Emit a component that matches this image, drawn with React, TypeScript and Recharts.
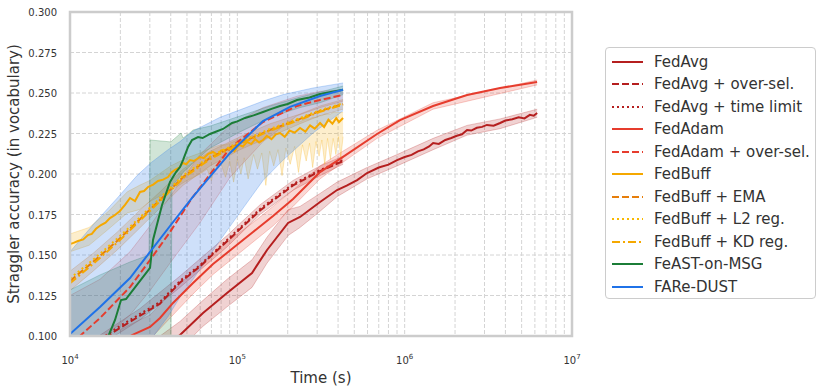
import { Area, CartesianGrid, ComposedChart, Line, XAxis, YAxis } from "recharts";

type Pt = [number, number];
type Band = [number, number, number];

const xTicks = [
  10000, 20000, 30000, 40000, 50000, 60000, 70000, 80000, 90000,
  100000, 200000, 300000, 400000, 500000, 600000, 700000, 800000, 900000,
  1000000, 2000000, 3000000, 4000000, 5000000, 6000000, 7000000, 8000000, 9000000,
  10000000,
];
const xLabelTicks = [10000, 100000, 1000000, 10000000];
const yTicks = [0.1, 0.125, 0.15, 0.175, 0.2, 0.225, 0.25, 0.275, 0.3];

// FedAvg family
const fedAvg: Pt[] = [
  [34510, 0.0914], [45450, 0.1006], [62370, 0.1142], [86800, 0.1265], [122400, 0.1389],
  [150500, 0.1531], [201000, 0.1698], [237000, 0.1735], [312200, 0.1827], [394500, 0.1901],
  [450000, 0.1928], [520000, 0.1962], [596000, 0.2006], [700000, 0.204], [800000, 0.2058],
  [900900, 0.2086], [1000000, 0.2105], [1100000, 0.2118], [1200000, 0.214], [1300000, 0.2152],
  [1400000, 0.217], [1480000, 0.2191], [1600000, 0.2186], [1750000, 0.221], [1900000, 0.2222],
  [2050000, 0.2236], [2200000, 0.2245], [2360000, 0.2272], [2500000, 0.2268], [2700000, 0.2285],
  [2900000, 0.2291], [3100000, 0.2303], [3400000, 0.2298], [3720000, 0.2315], [4000000, 0.233],
  [4400000, 0.2338], [4800000, 0.235], [5200000, 0.2343], [5600000, 0.2365], [5900000, 0.236],
  [6190000, 0.2377],
];
const fedAvgBand: Band[] = [
  [34510, 0.083, 0.1], [45450, 0.092, 0.109], [62370, 0.106, 0.122], [86800, 0.118, 0.135],
  [122400, 0.13, 0.147], [150500, 0.145, 0.161], [201000, 0.162, 0.178], [237000, 0.167, 0.18],
  [312200, 0.177, 0.188], [394500, 0.186, 0.195], [596000, 0.197, 0.204], [900900, 0.205, 0.212],
  [1480000, 0.215, 0.222], [2360000, 0.224, 0.23], [3720000, 0.228, 0.234], [6190000, 0.235, 0.24],
];
const fedAvgOverSel: Pt[] = [
  [13000, 0.092], [16190, 0.099], [19900, 0.105], [26210, 0.1125], [34510, 0.12], [45450, 0.133],
  [59840, 0.143], [86800, 0.1585], [136700, 0.1775], [215300, 0.193], [312200, 0.2018], [428400, 0.208],
];
const fedAvgTimeLimit: Pt[] = [
  [13000, 0.093], [16190, 0.1], [19900, 0.1062], [26210, 0.1136], [34510, 0.121], [45450, 0.134],
  [59840, 0.1438], [86800, 0.1593], [136700, 0.1784], [215300, 0.1938], [312200, 0.2025], [428400, 0.2086],
];
const fedAvgTimeLimitBand: Band[] = [
  [13000, 0.09, 0.096], [26210, 0.11, 0.117], [45450, 0.13, 0.137], [86800, 0.155, 0.162],
  [136700, 0.175, 0.181], [215300, 0.19, 0.196], [312200, 0.199, 0.205], [428400, 0.206, 0.211],
];

// FedAdam family
const fedAdam: Pt[] = [
  [19900, 0.0963], [23480, 0.1006], [30080, 0.1056], [34510, 0.1111], [41270, 0.1204], [54360, 0.1327],
  [71580, 0.1444], [94270, 0.1543], [124100, 0.1642], [163500, 0.1741], [215300, 0.1846], [261000, 0.1932],
  [312200, 0.2012], [411100, 0.2093], [683900, 0.2247], [938600, 0.2333], [1478000, 0.242],
  [2360000, 0.2488], [3717000, 0.2531], [6186000, 0.2568],
];
const fedAdamBand: Band[] = [
  [19900, 0.088, 0.104], [30080, 0.098, 0.113], [41270, 0.113, 0.128], [54360, 0.126, 0.14],
  [71580, 0.138, 0.151], [94270, 0.148, 0.161], [124100, 0.158, 0.17], [163500, 0.168, 0.18],
  [215300, 0.18, 0.19], [312200, 0.197, 0.205], [411100, 0.206, 0.213], [683900, 0.222, 0.227],
  [1478000, 0.24, 0.244], [6186000, 0.255, 0.258],
];
const fedAdamOverSel: Pt[] = [
  [10000, 0.0965], [11470, 0.1], [15110, 0.1111], [22840, 0.1302], [30080, 0.1469], [39600, 0.1642],
  [53620, 0.1852], [90460, 0.216], [142400, 0.2321], [227500, 0.242], [312200, 0.2457], [428400, 0.2488],
];
const fedAdamOverSelBand: Band[] = [
  [10000, 0.085, 0.125], [15110, 0.097, 0.135], [22840, 0.113, 0.152], [30080, 0.128, 0.168],
  [39600, 0.145, 0.186], [59840, 0.17, 0.212], [90460, 0.198, 0.23], [142400, 0.22, 0.241],
  [227500, 0.236, 0.248], [312200, 0.241, 0.251], [428400, 0.245, 0.252],
];

// FedBuff family
const fedBuff: Pt[] = [
  [10000, 0.1568], [10500, 0.1575], [11160, 0.1586], [12000, 0.1596], [12810, 0.1623], [13500, 0.163],
  [14300, 0.1662], [15320, 0.1685], [16300, 0.17], [17340, 0.1728], [18580, 0.1747], [19800, 0.177],
  [21320, 0.1809], [22840, 0.1852], [24460, 0.1833], [26210, 0.1889], [27700, 0.1895], [29260, 0.192],
  [31400, 0.1935], [33570, 0.1957], [36000, 0.1965], [38530, 0.1981], [40400, 0.201], [42430, 0.2025],
  [45000, 0.204], [47360, 0.2068], [49500, 0.206], [52160, 0.2086], [55000, 0.208], [59840, 0.2105],
  [63000, 0.2098], [67000, 0.2125], [71580, 0.2136], [76000, 0.2118], [80000, 0.2145], [85000, 0.215],
  [90460, 0.216], [96000, 0.214], [102000, 0.218], [108000, 0.217], [114300, 0.2198], [121000, 0.2185],
  [128000, 0.2215], [135000, 0.2195], [142400, 0.221], [150000, 0.2235], [160000, 0.2215], [170000, 0.2245],
  [180000, 0.2253], [192000, 0.223], [205000, 0.2268], [220000, 0.2255], [237000, 0.2284], [255000, 0.2262],
  [272000, 0.23], [290000, 0.228], [312200, 0.2315], [330000, 0.229], [350000, 0.2335], [370000, 0.231],
  [390000, 0.2345], [405000, 0.232], [428400, 0.2346],
];
const fedBuffBand: Band[] = [
  [10000, 0.152, 0.163], [13000, 0.156, 0.167], [17000, 0.166, 0.177], [22000, 0.176, 0.189],
  [26000, 0.178, 0.193], [30000, 0.183, 0.196], [40000, 0.19, 0.205], [50000, 0.196, 0.21],
  [60000, 0.2, 0.213], [66000, 0.203, 0.215], [70000, 0.196, 0.216], [74000, 0.205, 0.217],
  [80000, 0.206, 0.218], [85000, 0.198, 0.218], [90000, 0.208, 0.219], [95000, 0.195, 0.22],
  [100000, 0.209, 0.221], [105000, 0.2, 0.221], [110000, 0.21, 0.222], [116000, 0.197, 0.223],
  [125000, 0.212, 0.224], [132000, 0.203, 0.224], [140000, 0.213, 0.225], [148000, 0.193, 0.226],
  [156000, 0.214, 0.227], [165000, 0.205, 0.227], [175000, 0.215, 0.228], [185000, 0.199, 0.229],
  [195000, 0.216, 0.23], [207000, 0.206, 0.231], [220000, 0.217, 0.232], [232000, 0.201, 0.232],
  [245000, 0.218, 0.233], [258000, 0.208, 0.234], [270000, 0.219, 0.234], [282000, 0.204, 0.235],
  [295000, 0.22, 0.235], [308000, 0.211, 0.236], [320000, 0.221, 0.236], [333000, 0.206, 0.237],
  [346000, 0.222, 0.237], [360000, 0.209, 0.237], [374000, 0.222, 0.238], [388000, 0.212, 0.238],
  [402000, 0.223, 0.238], [415000, 0.21, 0.238], [428400, 0.223, 0.238],
];
const fedBuffEma: Pt[] = [
  [10000, 0.134], [13730, 0.1457], [19100, 0.1586], [25150, 0.1704], [34510, 0.184], [47360, 0.1981],
  [68680, 0.2099], [103800, 0.2191], [156800, 0.2272], [237000, 0.234], [312200, 0.2389], [428400, 0.2432],
];
const fedBuffL2: Pt[] = [
  [10000, 0.1355], [13730, 0.147], [19100, 0.16], [25150, 0.1715], [34510, 0.1852], [47360, 0.199],
  [68680, 0.2108], [103800, 0.2198], [156800, 0.2278], [237000, 0.2346], [312200, 0.2394], [428400, 0.2436],
];
const fedBuffKd: Pt[] = [
  [10000, 0.1325], [13730, 0.1445], [19100, 0.1575], [25150, 0.1695], [34510, 0.1832], [47360, 0.1974],
  [68680, 0.2092], [103800, 0.2186], [156800, 0.2267], [237000, 0.2335], [312200, 0.2384], [428400, 0.2428],
];
const fedBuffEmaBand: Band[] = [
  [10000, 0.128, 0.14], [13730, 0.14, 0.151], [19100, 0.153, 0.164], [25150, 0.165, 0.176],
  [34510, 0.179, 0.189], [47360, 0.193, 0.203], [68680, 0.205, 0.214], [103800, 0.215, 0.223],
  [156800, 0.223, 0.231], [237000, 0.231, 0.237], [312200, 0.236, 0.242], [428400, 0.24, 0.246],
];

// FeAST-on-MSG
const feast: Pt[] = [
  [16870, 0.0994], [18580, 0.1099], [20180, 0.1222], [21610, 0.1228], [30080, 0.142], [31340, 0.1593],
  [35480, 0.1809], [39600, 0.1951], [43020, 0.2012], [45450, 0.2043], [47360, 0.2086], [50750, 0.2167],
  [53620, 0.221], [58240, 0.2228], [62000, 0.2222], [68680, 0.2247], [75000, 0.2262], [82140, 0.2278],
  [92990, 0.2315], [100000, 0.2325], [111200, 0.2346], [125000, 0.2362], [142400, 0.2383], [160000, 0.2402],
  [180000, 0.242], [200000, 0.2432], [227500, 0.2457], [270000, 0.2472], [312200, 0.2494], [428400, 0.252],
];
const feastBand: Band[] = [
  [10000, 0.07, 0.1284], [15110, 0.08, 0.1377], [22840, 0.09, 0.1457], [29660, 0.095, 0.15],
  [30080, 0.095, 0.221], [40150, 0.098, 0.2198], [40710, 0.1926, 0.2205], [46080, 0.199, 0.2253],
  [47360, 0.201, 0.2222], [52160, 0.205, 0.2255], [54360, 0.207, 0.2272], [68680, 0.216, 0.2296],
  [103800, 0.226, 0.2358], [156800, 0.235, 0.242], [237000, 0.241, 0.2475], [312200, 0.244, 0.2506],
  [428400, 0.249, 0.2543],
];

// FARe-DUST
const fareDust: Pt[] = [
  [10000, 0.1012], [15110, 0.1179], [22840, 0.1358], [30080, 0.1519], [39600, 0.1679], [53620, 0.1852],
  [90460, 0.213], [142400, 0.2327], [206500, 0.2414], [312200, 0.2481], [428400, 0.252],
];
const fareDustBand: Band[] = [
  [10000, 0.03, 0.152], [14110, 0.045, 0.17], [19100, 0.062, 0.185], [25150, 0.082, 0.199],
  [30500, 0.098, 0.207], [38530, 0.112, 0.215], [45450, 0.124, 0.22], [54360, 0.135, 0.2265],
  [78820, 0.159, 0.235], [100000, 0.174, 0.239], [142400, 0.196, 0.245], [187600, 0.2086, 0.249],
  [283500, 0.2253, 0.2531], [428400, 0.239, 0.2562],
];

const RED_DARK = "#b51f1f";
const RED = "#e63c2d";
const ORANGE = "#f5a800";
const ORANGE_DARK = "#e67e0a";
const YELLOW = "#f8b800";
const GREEN = "#1b7d37";
const BLUE = "#1f72e8";

const DASH = "7 3";
const DOT = "2 3";
const DASHDOT = "8 3 2 3";

type Series = {
  name: string;
  line: Pt[];
  band?: Band[];
  color: string;
  dash?: string;
  bandOpacity?: number;
};

// drawing order follows the original plot (later bands cover earlier lines)
const series: Series[] = [
  { name: "FedAvg", line: fedAvg, band: fedAvgBand, color: RED_DARK },
  { name: "FedAvg + over-sel.", line: fedAvgOverSel, color: RED_DARK, dash: DASH },
  { name: "FedAvg + time limit", line: fedAvgTimeLimit, band: fedAvgTimeLimitBand, color: RED_DARK, dash: DOT },
  { name: "FedAdam", line: fedAdam, band: fedAdamBand, color: RED },
  { name: "FedAdam + over-sel.", line: fedAdamOverSel, band: fedAdamOverSelBand, color: RED, dash: DASH, bandOpacity: 0.15 },
  { name: "FedBuff", line: fedBuff, band: fedBuffBand, color: ORANGE },
  { name: "FedBuff + EMA", line: fedBuffEma, band: fedBuffEmaBand, color: ORANGE_DARK, dash: DASH },
  { name: "FedBuff + L2 reg.", line: fedBuffL2, color: YELLOW, dash: DOT },
  { name: "FedBuff + KD reg.", line: fedBuffKd, color: ORANGE, dash: DASHDOT },
  { name: "FeAST-on-MSG", line: feast, band: feastBand, color: GREEN },
  { name: "FARe-DUST", line: fareDust, band: fareDustBand, color: BLUE, bandOpacity: 0.22 },
];

const W = 822;
const H = 392;
const PLOT = { left: 70, top: 12, right: 572, bottom: 336 };
const FONT = "'DejaVu Sans', sans-serif";
const TEXT = "#333333";

function XTick(props: any) {
  const { x, y, payload } = props;
  if (!xLabelTicks.includes(payload.value)) return <g />;
  const exp = Math.round(Math.log10(payload.value));
  return (
    <text x={x} y={y + 28} textAnchor="middle" fontSize={10} fill={TEXT} fontFamily={FONT}>
      10
      <tspan dy={-5} fontSize={7}>
        {exp}
      </tspan>
    </text>
  );
}

function YTick(props: any) {
  const { x, y, payload } = props;
  return (
    <text x={x - 13} y={y + 4} textAnchor="end" fontSize={10} fill={TEXT} fontFamily={FONT}>
      {Number(payload.value).toFixed(3)}
    </text>
  );
}

function Legend() {
  return (
    <div
      style={{
        position: "absolute",
        left: 605,
        top: 47,
        width: 209,
        height: 250,
        border: "1px solid #cccccc",
        borderRadius: 4,
        background: "#fff",
        fontFamily: FONT,
        fontSize: 15,
        color: TEXT,
      }}
    >
      {series.map((s, i) => (
        <div
          key={s.name}
          style={{ position: "absolute", left: 0, top: 3 + i * 22.45, height: 22, display: "flex", alignItems: "center" }}
        >
          <svg width={48} height={22}>
            <line x1={6} x2={37} y1={11} y2={11} stroke={s.color} strokeWidth={2} strokeDasharray={s.dash} />
          </svg>
          <span style={{ whiteSpace: "nowrap" }}>{s.name}</span>
        </div>
      ))}
    </div>
  );
}

export default function App() {
  return (
    <div style={{ position: "absolute", left: 0, top: 0, width: W, height: H, background: "#fff" }}>
      <ComposedChart
        width={W}
        height={H}
        margin={{ top: PLOT.top, right: W - PLOT.right, bottom: 0, left: 0 }}
      >
        <CartesianGrid stroke="#d4d4d4" strokeDasharray="4 2" />
        <XAxis
          dataKey="x"
          type="number"
          scale="log"
          domain={[10000, 10000000]}
          ticks={xTicks}
          allowDataOverflow
          height={H - PLOT.bottom}
          tickSize={0}
          tickMargin={0}
          axisLine={false}
          tickLine={false}
          interval={0}
          tick={XTick}
        />
        <YAxis
          type="number"
          domain={[0.1, 0.3]}
          ticks={yTicks}
          allowDataOverflow
          width={PLOT.left}
          tickSize={0}
          tickMargin={0}
          axisLine={false}
          tickLine={false}
          interval={0}
          tick={YTick}
        />
        {series.flatMap((s) => {
          const items = [
            <Line
              key={s.name + "-line"}
              data={s.line.map(([x, y]) => ({ x, y }))}
              dataKey="y"
              type="linear"
              stroke={s.color}
              strokeWidth={2}
              strokeDasharray={s.dash}
              dot={false}
              activeDot={false}
              isAnimationActive={false}
            />,
          ];
          if (s.band) {
            items.push(
              <Area
                key={s.name + "-band"}
                data={s.band.map(([x, lo, hi]) => ({ x, r: [lo, hi] }))}
                dataKey="r"
                type="linear"
                stroke={s.color}
                strokeOpacity={0.25}
                strokeWidth={1}
                fill={s.color}
                fillOpacity={s.bandOpacity ?? 0.2}
                dot={false}
                activeDot={false}
                isAnimationActive={false}
              />
            );
          }
          return items;
        })}
      </ComposedChart>
      <svg width={W} height={H} style={{ position: "absolute", left: 0, top: 0, pointerEvents: "none" }}>
        <rect
          x={PLOT.left}
          y={PLOT.top}
          width={PLOT.right - PLOT.left}
          height={PLOT.bottom - PLOT.top}
          fill="none"
          stroke="#cccccc"
          strokeWidth={2.5}
        />
        <text x={(PLOT.left + PLOT.right) / 2} y={383} textAnchor="middle" fontSize={15} fill={TEXT} fontFamily={FONT}>
          Time (s)
        </text>
        <text
          transform={`translate(19, ${(PLOT.top + PLOT.bottom) / 2}) rotate(-90)`}
          textAnchor="middle"
          fontSize={15}
          fill={TEXT}
          fontFamily={FONT}
        >
          Straggler accuracy (in vocabulary)
        </text>
      </svg>
      <Legend />
    </div>
  );
}
